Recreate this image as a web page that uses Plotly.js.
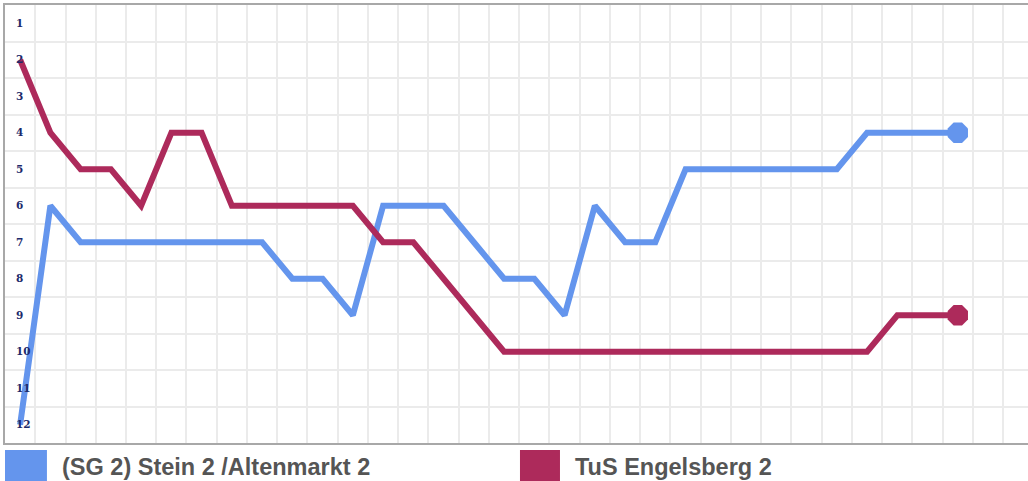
<!DOCTYPE html>
<html>
<head>
<meta charset="utf-8">
<script src="https://cdn.plot.ly/plotly-3.0.1.min.js"></script>
<style>
  html, body { margin: 0; padding: 0; background: #fff; }
  #chart { width: 1028px; height: 481px; }
</style>
</head>
<body>
<div id="chart"></div>
<script>
// Matchdays (index 0..31)
const matchdays = Array.from({length: 32}, (_, i) => i);
const seriesNames = ["(SG 2) Stein 2 /Altenmarkt 2", "TuS Engelsberg 2"];
const seriesColors = ["#6495ED", "#AD2A5B"];
const steinRanks = [12,6,7,7,7,7,7,7,7,8,8,9,6,6,6,7,8,8,9,6,7,7,5,5,5,5,5,5,4,4,4,4];
const engelsbergRanks = [2,4,5,5,6,4,4,6,6,6,6,6,7,7,8,9,10,10,10,10,10,10,10,10,10,10,10,10,10,9,9,9];
const rankTicks = [1,2,3,4,5,6,7,8,9,10,11,12];

const allRanks = [steinRanks, engelsbergRanks];
const traces = allRanks.map((ranks, k) => {
  const last = ranks.length - 1;
  return {
    x: matchdays,
    y: ranks,
    name: seriesNames[k],
    type: 'scatter',
    mode: 'lines+markers',
    line: {color: seriesColors[k], width: 6, shape: 'linear'},
    marker: {
      symbol: 'octagon',
      color: seriesColors[k],
      opacity: 1,
      size: matchdays.map(i => i === last ? 22 : 0),
      line: {width: 0}
    },
    hoverinfo: 'skip',
    showlegend: false
  };
});

const legendX = [[0, 0.041, 0.0537], [0.5034, 0.5425, 0.555]];
const shapes = [];
const annotations = [];
seriesNames.forEach((nm, k) => {
  shapes.push({
    type: 'rect', xref: 'paper', yref: 'paper',
    x0: legendX[k][0], x1: legendX[k][1], y0: -0.016, y1: -0.0868,
    fillcolor: seriesColors[k], line: {width: 0}
  });
  annotations.push({
    xref: 'paper', yref: 'paper', x: legendX[k][2], y: -0.054,
    xanchor: 'left', yanchor: 'middle', showarrow: false,
    text: nm,
    font: {family: 'Liberation Sans, Arial, sans-serif', size: 23.5, color: '#555555', weight: 'bold'}
  });
});

const layout = {
  width: 1028, height: 481,
  margin: {l: 5, r: 0, t: 5, b: 38},
  paper_bgcolor: '#ffffff',
  plot_bgcolor: '#ffffff',
  showlegend: false,
  xaxis: {
    range: [-0.5, 33.32],
    showticklabels: false,
    ticks: '',
    showgrid: false,
    zeroline: false,
    showline: true, mirror: true, linecolor: '#a8a8a8', linewidth: 2,
    minor: {tick0: 0.5, dtick: 1, showgrid: true, gridcolor: '#ebebeb', gridwidth: 2, ticks: ''}
  },
  yaxis: {
    range: [12.5, 0.5],
    tickvals: rankTicks,
    ticktext: rankTicks.map(String),
    ticklabelposition: 'inside',
    ticklabelstandoff: 10,
    tickfont: {family: 'DejaVu Serif, serif', size: 10.5, color: '#1c2a6b', weight: 'bold'},
    ticks: '',
    showgrid: false,
    zeroline: false,
    showline: true, mirror: true, linecolor: '#a8a8a8', linewidth: 2,
    minor: {tick0: 0.5, dtick: 1, showgrid: true, gridcolor: '#ebebeb', gridwidth: 2, ticks: ''}
  },
  shapes: shapes,
  annotations: annotations
};

Plotly.newPlot('chart', traces, layout, {displayModeBar: false, staticPlot: true});
</script>
</body>
</html>
